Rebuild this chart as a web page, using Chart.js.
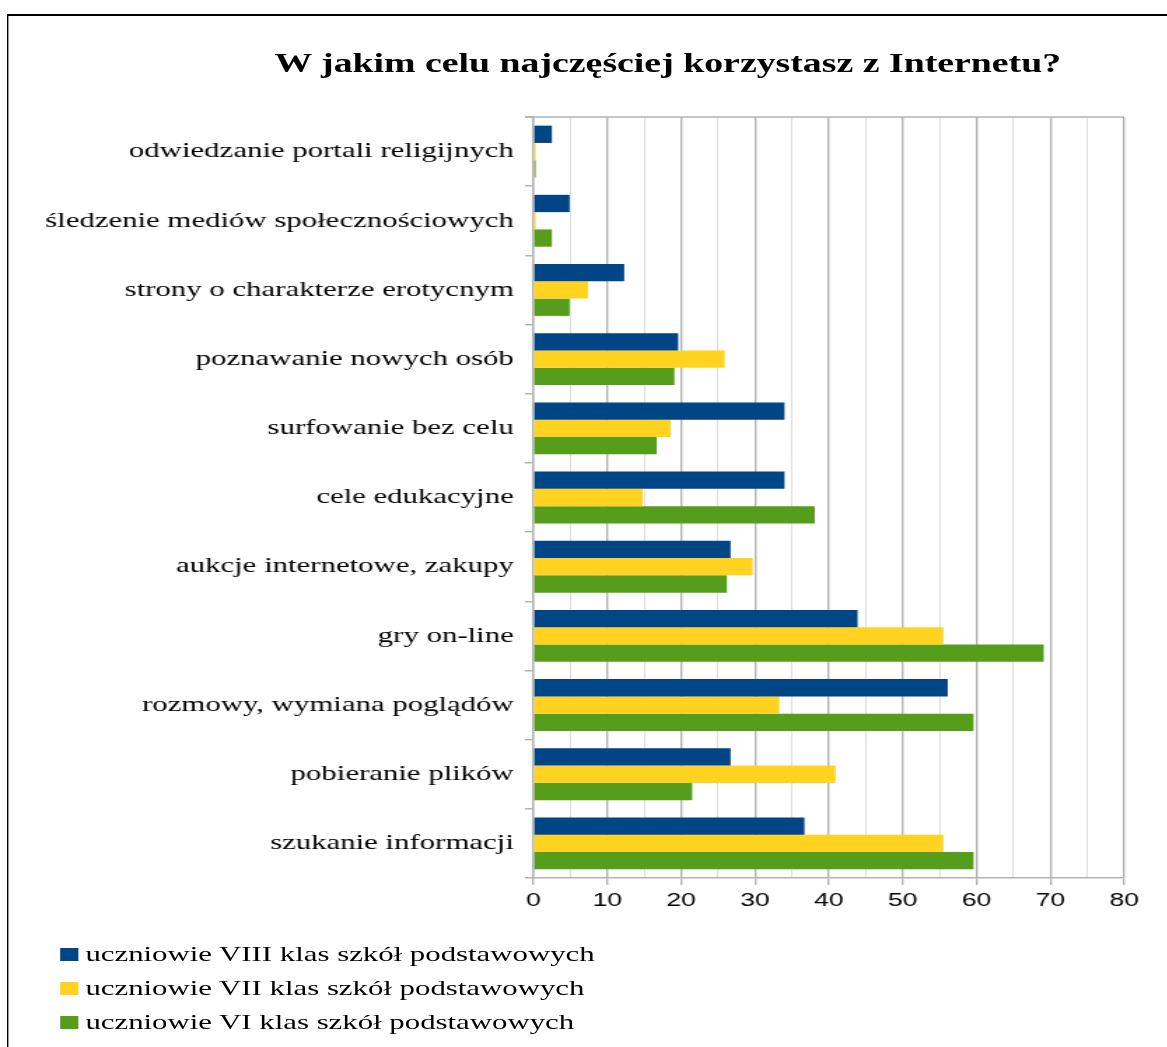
<!DOCTYPE html>
<html lang="pl">
<head>
    <meta charset="UTF-8">
    <title>W jakim celu najczęściej korzystasz z Internetu?</title>
    <script src="https://cdn.jsdelivr.net/npm/chart.js"></script>
    <style>
        html, body {
            margin: 0;
            padding: 0;
            background: #fff;
            overflow: hidden;
        }
        /* the source picture is stretched sideways, so the whole page is too */
        #page {
            position: absolute;
            left: 0;
            top: 0;
            width: 834px;
            height: 1047px;
            transform: scaleX(1.4);
            transform-origin: 0 0;
        }
        #frame {
            position: absolute;
            left: 5px;
            top: 14px;
            width: 1000px;
            height: 1100px;
            border-left: 1.5px solid #000;
            border-top: 2px solid #000;
        }
        h1 {
            position: absolute;
            left: 77px;
            width: 800px;
            top: 50px;
            margin: 0;
            text-align: center;
            font-family: 'Liberation Serif', serif;
            font-weight: bold;
            font-size: 27px;
            line-height: 1;
            color: #000;
        }
        .chart-box {
            position: absolute;
            left: 0;
            top: 100px;
            width: 834px;
            height: 830px;
        }
        #legend {
            position: absolute;
            left: 43px;
            top: 941px;
            font-family: 'Liberation Serif', serif;
            font-size: 22px;
            color: #000;
        }
        #legend div {
            height: 34px;
            line-height: 26px;
            white-space: nowrap;
        }
        #legend span {
            display: inline-block;
            width: 13px;
            height: 13px;
            margin-right: 5px;
            vertical-align: 0;
        }
    </style>
</head>
<body>

<div id="page">
    <div id="frame"></div>
    <h1>W jakim celu najczęściej korzystasz z Internetu?</h1>
    <div class="chart-box">
        <canvas id="usageChart"></canvas>
    </div>
    <div id="legend"></div>
</div>

<script>
    const categories = [
        "odwiedzanie portali religijnych",
        "śledzenie mediów społecznościowych",
        "strony o charakterze erotycnym",
        "poznawanie nowych osób",
        "surfowanie bez celu",
        "cele edukacyjne",
        "aukcje internetowe, zakupy",
        "gry on-line",
        "rozmowy, wymiana poglądów",
        "pobieranie plików",
        "szukanie informacji"
    ];
    const seriesNames = [
        "uczniowie VIII klas szkół podstawowych",
        "uczniowie VII klas szkół podstawowych",
        "uczniowie VI klas szkół podstawowych"
    ];
    const klasaVIII = [2.5, 4.9, 12.3, 19.6, 34.0, 34.0, 26.7, 43.9, 56.1, 26.7, 36.7];
    const klasaVII = [0.3, 0.3, 7.4, 25.9, 18.6, 14.8, 29.7, 55.5, 33.3, 40.9, 55.5];
    const klasaVI = [0.3, 2.5, 4.9, 19.1, 16.7, 38.1, 26.2, 69.1, 59.6, 21.5, 59.6];
    const xTicks = [0, 10, 20, 30, 40, 50, 60, 70, 80];

    const colors = ['#004586', '#ffd320', '#579d1c'];
    const values = [klasaVIII, klasaVII, klasaVI];

    // grey line along the top of the plot
    const topBorder = {
        id: 'topBorder',
        beforeDatasetsDraw(chart) {
            const { ctx, chartArea } = chart;
            ctx.save();
            ctx.strokeStyle = '#b3b3b3';
            ctx.lineWidth = 1.5;
            ctx.beginPath();
            ctx.moveTo(chartArea.left - 6, chartArea.top);
            ctx.lineTo(chartArea.right, chartArea.top);
            ctx.stroke();
            ctx.restore();
        }
    };

    new Chart(document.getElementById('usageChart'), {
        type: 'bar',
        data: {
            labels: categories,
            datasets: seriesNames.map((name, i) => ({
                label: name,
                data: values[i],
                backgroundColor: colors[i],
                borderWidth: 0,
                categoryPercentage: 0.75,
                barPercentage: 1
            }))
        },
        options: {
            indexAxis: 'y',
            responsive: true,
            maintainAspectRatio: false,
            animation: false,
            layout: {
                padding: { left: 0, right: 31, top: 17, bottom: 0 }
            },
            scales: {
                x: {
                    min: 0,
                    max: 80,
                    afterFit: scale => { scale.height = 52; },
                    ticks: {
                        stepSize: 5,
                        padding: 4,
                        autoSkip: false,
                        minRotation: 0,
                        maxRotation: 0,
                        color: '#000',
                        font: { family: "'Liberation Sans', sans-serif", size: 19 },
                        callback: v => xTicks.includes(v) ? v : ''
                    },
                    grid: {
                        color: c => c.tick && c.tick.value % 10 === 0 ? '#b3b3b3' : '#dddddd',
                        lineWidth: c => c.tick && c.tick.value % 10 === 0 ? 1.4 : 1,
                        tickColor: c => c.tick && c.tick.value % 10 === 0 ? '#b3b3b3' : 'rgba(0,0,0,0)',
                        tickLength: 7
                    },
                    border: { color: '#b3b3b3', width: 1.4 }
                },
                y: {
                    afterFit: scale => {
                        scale.width = 381;
                        scale.paddingTop = 0;
                        scale.paddingBottom = 0;
                    },
                    ticks: {
                        padding: 8,
                        color: '#000',
                        font: { family: "'Liberation Serif', serif", size: 22 }
                    },
                    grid: {
                        drawOnChartArea: false,
                        color: '#b3b3b3',
                        lineWidth: 1.5,
                        tickLength: 6
                    },
                    border: { color: '#b3b3b3', width: 1.4 }
                }
            },
            plugins: {
                legend: { display: false },
                tooltip: { enabled: false }
            }
        },
        plugins: [topBorder]
    });

    // legend below the chart, one series per row
    const legend = document.getElementById('legend');
    seriesNames.forEach((name, i) => {
        const row = document.createElement('div');
        const box = document.createElement('span');
        box.style.background = colors[i];
        row.appendChild(box);
        row.appendChild(document.createTextNode(name));
        legend.appendChild(row);
    });
</script>

</body>
</html>
